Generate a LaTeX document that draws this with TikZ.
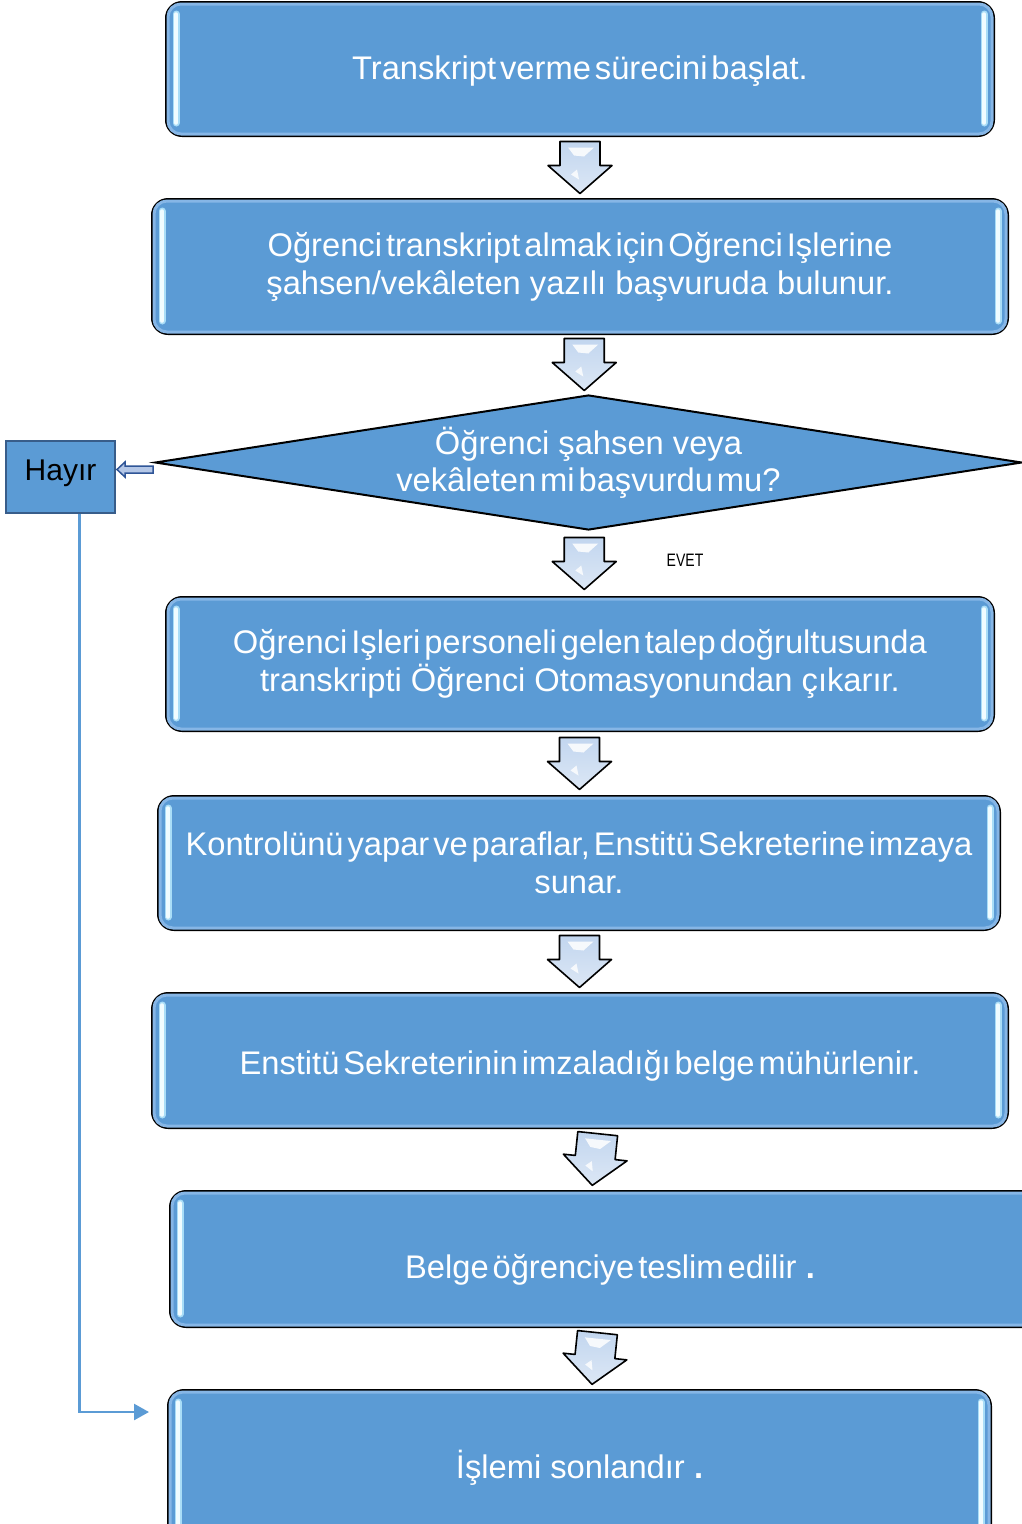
\documentclass[tikz,border=0pt]{standalone}
\usepackage{fontspec}
\setmainfont{Liberation Sans}
\newfontfamily\narrowfont[FakeStretch=0.78]{Liberation Sans}
\usetikzlibrary{calc,arrows.meta,shapes.geometric}
\definecolor{boxblue}{HTML}{5B9BD5}
\definecolor{bandblue}{HTML}{86B6E6}
\definecolor{hlglow}{HTML}{A9DDF7}
\definecolor{hlcore}{HTML}{F0FCFF}
\definecolor{darkblue}{HTML}{385D8A}
\definecolor{arrdark}{HTML}{2F5597}
\definecolor{hollowfill}{HTML}{B4C7E7}
\definecolor{arrtop}{HTML}{C2D6EF}
\definecolor{arrbot}{HTML}{DCE7F5}
\newcommand\tght[1]{{\spaceskip=0.12em plus 0.05em minus 0.02em\relax#1}}
\newcommand\glint[2]{%
  \draw[line width=7pt, color=hlglow, line cap=round] ($(#1.north #2)+(\glx,13)$) -- ($(#1.south #2)+(\glx,-14)$);
  \draw[line width=3.5pt, color=hlcore, line cap=round] ($(#1.north #2)+(\glx,13)$) -- ($(#1.south #2)+(\glx,-14)$);}
\newcommand\glx{11}
\newcommand\boxdeco[1]{%
  \draw[color=bandblue, line width=3pt, rounded corners=13pt] ($(#1.north west)+(3,3)$) rectangle ($(#1.south east)+(-3,-3)$);
  \renewcommand\glx{11}\glint{#1}{west}%
  \renewcommand\glx{-11}\glint{#1}{east}}
\tikzset{
  procbox/.style={draw=black, line width=2pt, rounded corners=16pt, fill=boxblue, text=white,
    align=center, font=\fontsize{32.7}{38}\selectfont, inner sep=0pt},
  decision/.style={shape=diamond, draw=black, line width=2pt, fill=boxblue, text=white, align=center,
    font=\fontsize{32.7}{37}\selectfont, inner sep=0pt, aspect=6.42},
  nobox/.style={draw=darkblue, line width=2pt, fill=boxblue, text=black, font=\fontsize{30}{32}\selectfont, inner sep=0pt},
  blockarr/.style={draw=black, line width=1.6pt, line join=round, top color=arrtop, bottom color=arrbot},
  hollowarr/.style={draw=arrdark, line width=1.5pt, fill=hollowfill, line join=miter},
  feedback/.style={draw=boxblue, line width=2.5pt, -{Triangle[length=15pt,width=16pt]}},
  downarr/.pic={
    \path[blockarr] (-20,-26) -- (20,-26) -- (20,-2) -- (32,-2) -- (0,26) -- (-32,-2) -- (-20,-2) -- cycle;
    \fill[white, opacity=0.85] (-12,-20) -- (14,-20) -- (4,-11) -- (-6,-12) -- cycle;
    \fill[white, opacity=0.8] (-9,7) -- (-3,2) -- (-1,12) -- cycle;}
}
\begin{document}
\begin{tikzpicture}[x=1pt,y=-1pt]
\useasboundingbox (0,0) rectangle (1022,1524);
\fill[white] (0,0) rectangle (1022,1524);
\clip (0,0) rectangle (1022,1524);

\node[procbox, minimum width=828pt, minimum height=134pt, text height=28pt, text depth=7pt] (b1) at (580,69) {\tght{Transkript verme sürecini başlat.}};
\node[procbox, minimum width=856pt, minimum height=135pt] (b2) at (580,266.5) {\tght{Oğrenci transkript almak için Oğrenci Işlerine}\\şahsen/vekâleten yazılı başvuruda bulunur.};
\node[decision, minimum width=867pt, minimum height=135pt] (d) at (588.5,462.5) {Öğrenci şahsen veya\\\tght{vekâleten mi başvurdu mu?}};
\node[procbox, minimum width=828pt, minimum height=134pt] (b4) at (580,664) {\tght{Oğrenci Işleri personeli gelen talep doğrultusunda}\\transkripti Öğrenci Otomasyonundan çıkarır.};
\node[procbox, minimum width=842pt, minimum height=134pt] (b5) at (579,863) {\tght{Kontrolünü yapar ve paraflar, Enstitü Sekreterine imzaya}\\sunar.};
\node[procbox, minimum width=856pt, minimum height=135pt, text height=34pt, text depth=7pt] (b6) at (580,1060.5) {\tght{Enstitü Sekreterinin imzaladığı belge mühürlenir.}};
\node[procbox, minimum width=880pt, minimum height=136pt, text height=46pt, text depth=7pt] (b7) at (610,1259) {\tght{Belge öğrenciye teslim edilir} {\bfseries .}};
\node[procbox, minimum width=823pt, minimum height=156pt, text height=28pt, text depth=7pt] (b8) at (579.5,1468) {İşlemi sonlandır {\bfseries .}};
\node[nobox, minimum width=109pt, minimum height=72pt, text height=21.5pt, text depth=14pt] (hayir) at (60.5,477) {Hayır};
\node[font=\narrowfont\fontsize{18}{20}\selectfont, text=black, inner sep=0pt] (evet) at (685,560) {EVET};

\boxdeco{b1}\boxdeco{b2}\boxdeco{b4}\boxdeco{b5}\boxdeco{b6}\boxdeco{b7}\boxdeco{b8}

\pic at ($(b1.south)!0.5!(b2.north)$) {downarr};
\pic at ($(b2.south)!0.5!(d.north)$) {downarr};
\pic at ($(d.south)!0.5!(b4.north)$) {downarr};
\pic at ($(b4.south)!0.5!(b5.north)$) {downarr};
\pic at ($(b5.south)!0.5!(b6.north)$) {downarr};
\pic[rotate=-6] at ($(b6.south)!0.5!(b7.north)$) {downarr};
\pic[rotate=-6] at ($(b7.south)!0.5!(b8.north)$) {downarr};

% No-branch arrow from decision to Hayir
\coordinate (hs) at ($(d.west)+(-1,7)$);
\coordinate (he) at (hayir.east |- hs);
\path[hollowarr] ($(hs)+(0,-3.5)$) -- ($(he)+(9,-3.5)$) -- ($(he)+(9,-7.5)$) -- ($(he)+(1,0)$) -- ($(he)+(9,7.5)$) -- ($(he)+(9,3.5)$) -- ($(hs)+(0,3.5)$) -- cycle;

% feedback line to the end box
\coordinate (fend) at ($(b8.north west)+(-18,23)$);
\draw[feedback] ($(hayir.south)+(19,0)$) |- (fend);
\end{tikzpicture}
\end{document}
